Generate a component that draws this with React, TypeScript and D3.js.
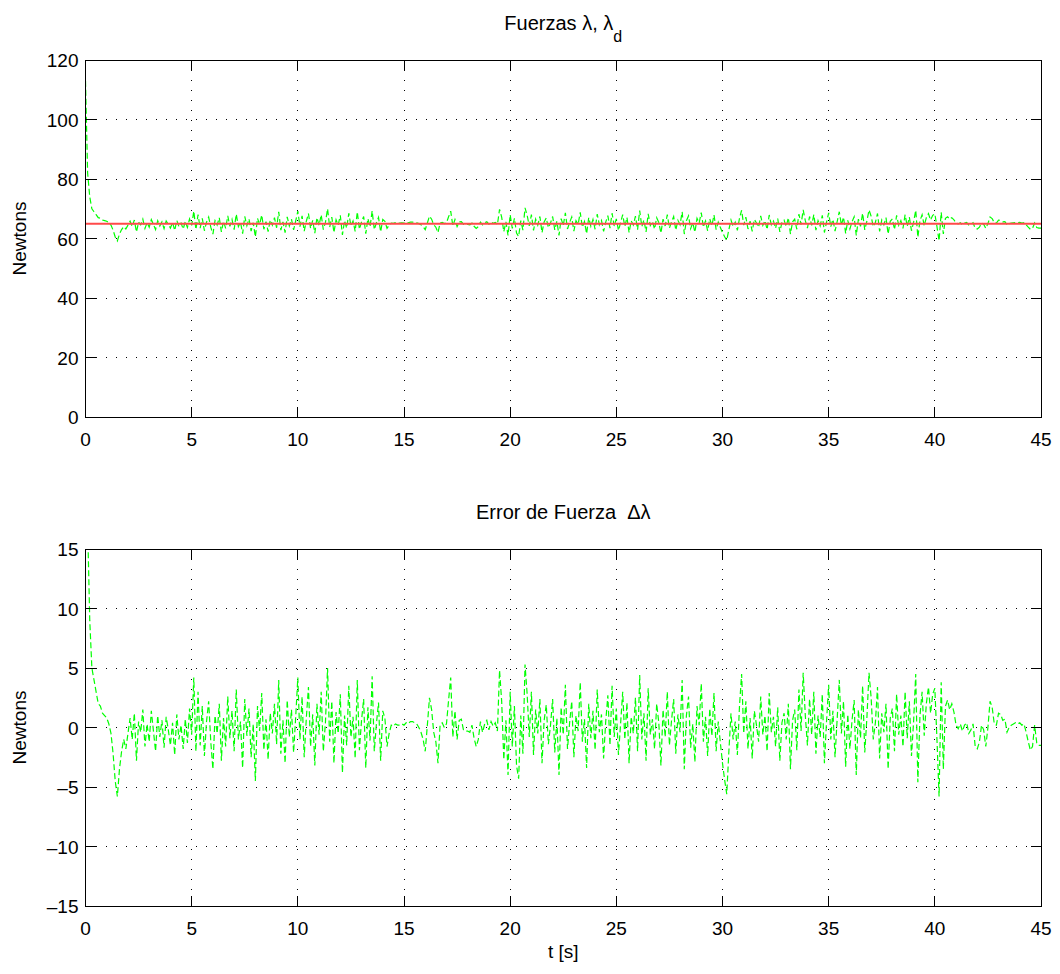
import React from "react";
import * as d3 from "d3";

// ---- Data ----
const sampleStep = 0.1; // seconds between samples
// Force error Δλ (Newtons), one sample every 0.1 s from t = 0 to t = 45
const forceError: number[] = [
  48, 17, 9, 5, 4, 3, 2, 1.8, 1.2, 1.0,
  0.8, 0.3, -0.5, -2.2, -4.5, -5.8, -3.5, -2.0, -1.0, -1.8,
  -0.5, 0.8, -1.0, 1.2, -2.8, 0.5, -0.4, 1.5, -1.6, 0.3,
  -1.2, 1.4, -0.3, -2.0, 1.0, -0.8, 0.6, -1.7, 0.9, -0.2,
  -1.5, 0.4, -2.3, 1.1, -1.0, 0.2, -1.8, 0.7, -1.3, 1.6,
  -0.6, 4.2, -2.0, 3.0, -1.5, 1.8, -2.4, 0.5, 2.2, -1.2,
  -3.5, 1.0, -0.5, 2.0, -2.8, 0.8, -1.6, 2.6, -0.9, 1.4,
  -2.0, 3.2, -1.0, 0.5, -3.4, 2.4, -0.7, 1.6, -2.5, 0.3,
  -4.5, 1.8, -0.3, 2.9, -1.9, 0.7, -2.7, 1.2, -0.5, 2.0,
  -1.4, 4.0, -2.2, 0.6, -3.0, 2.3, -0.8, 1.5, -2.1, 0.9,
  4.2, -1.0, 2.6, -2.5, 0.8, 3.4, -1.6, 1.1, -3.2, 2.0,
  -0.6, 3.0, -2.0, 0.4, 5.0, -1.2, 2.2, -3.0, 1.3, -0.5,
  2.8, -3.8, 1.0, -1.5, 3.5, -0.8, 0.9, -2.6, 4.0, -1.9,
  0.6, 2.4, -3.4, 1.7, -1.1, 4.3, -2.0, 0.3, 2.1, -2.8,
  1.4, 0.8, -1.6, -0.5, 0.2, 0.1, 0.3, 0.2, 0.2, 0.3,
  0.2, 0.4, 0.3, 0.5, 0.5, 0.4, 0.3, 0.0, -0.4, -1.0,
  -2.0, 0.2, 2.5, 1.5, -0.4, -1.2, -3.0, 0.2, 0.4, 0.0,
  0.3, 2.3, 4.2, -0.8, 1.4, -1.0, 0.6, 0.7, -0.2, -0.3,
  -0.3, -0.4, 0.2, -0.9, -1.6, -1.0, 0.5, -0.4, 0.3, 0.6,
  -0.2, 0.5, 0.1, 0.4, -0.3, 4.8, 2.2, -2.7, 0.6, -4.0,
  3.0, -1.6, 1.8, -3.2, -4.3, 1.0, -2.2, 5.3, 2.8, -0.8,
  3.0, -2.3, 1.5, -0.5, 2.4, -3.0, 0.6, 1.9, -1.4, 0.2,
  2.4, -2.1, 0.8, -4.0, 1.7, -0.6, 3.6, -1.8, 0.4, 2.2,
  -2.5, 1.0, -0.3, 3.8, -1.2, 0.7, -3.4, 2.0, -0.9, 1.4,
  -1.9, 3.2, -0.4, 1.1, -2.6, 0.5, 2.7, -1.5, 3.5, -0.8,
  1.6, -2.3, 0.3, 3.0, -1.0, 2.1, -3.0, 0.9, -0.5, 2.5,
  -2.0, 4.4, -1.0, 1.2, -2.8, 3.3, -0.6, 0.7, -1.8, 2.0,
  0.4, -3.2, 1.5, -0.8, 3.0, -1.5, 0.6, 2.4, -2.2, 1.1,
  -0.4, 4.0, -3.5, 1.0, 2.6, -1.7, 0.3, -2.9, 1.8, 0.2,
  3.7, -1.2, 0.9, -2.4, 1.6, -0.7, 2.9, -2.0, 0.5, -1.3,
  -3.0, -4.4, -5.6, -2.0, 1.2, -1.0, 0.5, -2.3, 1.8, 4.5,
  -0.5, 2.2, -1.8, 0.8, -2.6, 1.4, 0.2, -1.2, 2.6, -0.6,
  1.0, -2.0, 2.9, -0.4, 0.9, -1.6, 1.7, -2.8, 0.4, 1.2,
  -1.0, 2.0, -3.5, 0.6, 1.5, -1.9, 3.2, -0.3, 4.6, 1.0,
  -1.5, 2.4, -0.6, 3.0, -2.2, 1.0, -0.8, 2.8, -3.0, 0.5,
  3.6, -1.0, 1.4, -2.5, 0.7, 4.0, -0.5, 2.2, -3.3, 1.1,
  -1.8, 0.6, 2.3, -4.0, 1.5, -0.9, 3.5, -2.1, 0.8, 4.6,
  2.5, -1.0, 0.4, 3.4, -2.6, 1.2, -0.4, 2.0, -3.5, 0.8,
  1.6, -2.0, 2.8, -0.6, 1.0, -1.6, 3.0, -0.9, 2.2, -2.4,
  0.5, 4.5, -4.6, 1.0, 3.0, -0.7, 2.0, 3.4, 1.2, 2.8,
  3.3, -1.0, -5.8, 3.8, -3.5, 1.8, 2.3, 1.5, 2.0, 1.3,
  0.2, -0.1, 0.3, -0.3, 0.2, 0.4, -0.5, -0.2, 0.3, -1.6,
  -1.8, -1.2, 0.2, -0.2, -1.6, 0.0, 2.2, 1.7, 0.3, 0.2,
  1.2, 1.1, 0.6, 0.7, -0.4, 0.0, 0.2, 0.3, 0.4, 0.3,
  0.4, 0.2, 0.3, -0.4, -1.2, -1.9, -1.6, 0.2, -1.3, -1.5,
  -1.5,
];
const desiredForce = 65; // λd (Newtons)
// Measured force λ = λd + Δλ
const measuredForce: number[] = forceError.map((e) => desiredForce + e);

const xTicks = [0, 5, 10, 15, 20, 25, 30, 35, 40, 45];
const topYTicks = [0, 20, 40, 60, 80, 100, 120];
const bottomYTicks = [-15, -10, -5, 0, 5, 10, 15];

// ---- Layout ----
const W = 1060;
const H = 974;
const left = 85.5;
const right = 1041;
const FONT = "'Liberation Sans', Arial, Helvetica, sans-serif";

type PanelProps = {
  id: string;
  top: number;
  bottom: number;
  yDomain: [number, number];
  yTicks: number[];
  series: { values: number[]; color: string; width: number; dash?: string }[];
};

function fmt(v: number) {
  return v < 0 ? "\u2013" + Math.abs(v) : String(v);
}

function Panel({ id, top, bottom, yDomain, yTicks, series }: PanelProps) {
  const x = d3.scaleLinear().domain([0, 45]).range([left, right]);
  const y = d3.scaleLinear().domain(yDomain).range([bottom, top]);
  const line = (vals: number[]) =>
    d3
      .line<number>()
      .x((_, i) => x(i * sampleStep))
      .y((v) => y(v))(vals) || "";
  const tickLen = 10;
  return (
    <g>
      <defs>
        <clipPath id={id}>
          <rect x={left} y={top} width={right - left} height={bottom - top} />
        </clipPath>
      </defs>
      {xTicks.slice(1, -1).map((t) => (
        <line
          key={"gx" + t}
          x1={x(t)}
          x2={x(t)}
          y1={top}
          y2={bottom}
          stroke="#000"
          strokeWidth={1}
          strokeDasharray="1,9"
          shapeRendering="crispEdges"
        />
      ))}
      {yTicks.slice(1, -1).map((t) => (
        <line
          key={"gy" + t}
          x1={left}
          x2={right}
          y1={y(t)}
          y2={y(t)}
          stroke="#000"
          strokeWidth={1}
          strokeDasharray="1,9"
          shapeRendering="crispEdges"
        />
      ))}
      <g clipPath={`url(#${id})`}>
        {series.map((s, i) => (
          <path
            key={i}
            d={line(s.values)}
            fill="none"
            stroke={s.color}
            strokeWidth={s.width}
            strokeDasharray={s.dash}
          />
        ))}
      </g>
      <rect
        x={left}
        y={top}
        width={right - left}
        height={bottom - top}
        fill="none"
        stroke="#000"
        strokeWidth={1}
        shapeRendering="crispEdges"
      />
      {xTicks.map((t) => (
        <g key={"tx" + t}>
          <line x1={x(t)} x2={x(t)} y1={bottom} y2={bottom - tickLen} stroke="#000" shapeRendering="crispEdges" />
          <line x1={x(t)} x2={x(t)} y1={top} y2={top + tickLen} stroke="#000" shapeRendering="crispEdges" />
          <text x={x(t)} y={bottom + 29} textAnchor="middle" fontSize={19} fontFamily={FONT} fill="#000">
            {fmt(t)}
          </text>
        </g>
      ))}
      {yTicks.map((t) => (
        <g key={"ty" + t}>
          <line x1={left} x2={left + tickLen} y1={y(t)} y2={y(t)} stroke="#000" shapeRendering="crispEdges" />
          <line x1={right} x2={right - tickLen} y1={y(t)} y2={y(t)} stroke="#000" shapeRendering="crispEdges" />
          <text x={left - 7} y={y(t) + 7} textAnchor="end" fontSize={19} fontFamily={FONT} fill="#000">
            {fmt(t)}
          </text>
        </g>
      ))}
      <text
        transform={`translate(26,${(top + bottom) / 2}) rotate(-90)`}
        textAnchor="middle"
        fontSize={19}
        fontFamily={FONT}
        fill="#000"
      >
        Newtons
      </text>
    </g>
  );
}

export default function App() {
  const topTop = 60;
  const topBottom = 417;
  const botTop = 549;
  const botBottom = 906;
  const cx = (left + right) / 2;
  return (
    <div style={{ position: "absolute", left: 0, top: 0 }}>
      <svg width={W} height={H} style={{ display: "block", background: "#fff" }}>
        <rect x={0} y={0} width={W} height={H} fill="#fff" />
        <text x={cx} y={30} textAnchor="middle" fontSize={20} fontFamily={FONT} fill="#000">
          Fuerzas λ, λ
          <tspan fontSize={16} dy={12}>d</tspan>
        </text>
        <Panel
          id="clipTop"
          top={topTop}
          bottom={topBottom}
          yDomain={[0, 120]}
          yTicks={topYTicks}
          series={[
            { values: measuredForce, color: "#00ff00", width: 1.2, dash: "6,3" },
            { values: measuredForce.map(() => desiredForce), color: "#ff4a4a", width: 2 },
          ]}
        />
        <text
          x={cx}
          y={botTop - 30}
          textAnchor="middle"
          fontSize={20}
          fontFamily={FONT}
          fill="#000"
          style={{ whiteSpace: "pre" }}
        >
          {"Error de Fuerza \u00a0\u0394\u03bb"}
        </text>
        <Panel
          id="clipBot"
          top={botTop}
          bottom={botBottom}
          yDomain={[-15, 15]}
          yTicks={bottomYTicks}
          series={[{ values: forceError, color: "#00ff00", width: 1.2, dash: "6,3" }]}
        />
        <text x={cx} y={958} textAnchor="middle" fontSize={19} fontFamily={FONT} fill="#000">
          t [s]
        </text>
      </svg>
    </div>
  );
}
